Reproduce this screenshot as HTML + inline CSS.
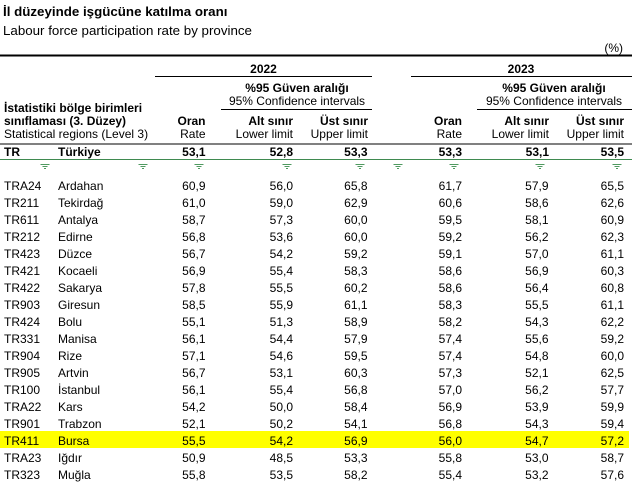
<!DOCTYPE html>
<html><head><meta charset="utf-8"><style>
html,body{margin:0;padding:0;background:#fff;}
svg{display:block;}
text{font-family:"Liberation Sans",Arial,sans-serif;font-size:12px;fill:#000;}
.b{font-weight:bold;}
.e{text-anchor:end;}
.m{text-anchor:middle;}
.t{font-size:13.33px;}
</style></head><body>
<svg width="632" height="484" viewBox="0 0 632 484" xmlns="http://www.w3.org/2000/svg">
<rect x="0" y="431" width="629" height="17" fill="#ffff00"/>
<text class="b t" x="3" y="16">İl düzeyinde işgücüne katılma oranı</text>
<text class="t" x="3" y="35">Labour force participation rate by province</text>
<text class="e" x="623" y="52">(%)</text>
<rect x="0" y="54.5" width="632" height="2" fill="#000"/>
<rect x="155" y="76" width="217" height="1" fill="#000"/>
<rect x="411" y="76" width="221" height="1" fill="#000"/>
<rect x="221" y="109" width="151" height="1" fill="#000"/>
<rect x="477" y="109" width="155" height="1" fill="#000"/>
<rect x="0" y="143.5" width="632" height="1" fill="#000"/>
<rect x="0" y="159" width="632" height="1" fill="#3f8a50"/>
<text class="b m" x="263.5" y="73">2022</text>
<text class="b m" x="521" y="73">2023</text>
<text class="b m" x="297" y="92">%95 Güven aralığı</text>
<text class="m" x="297" y="105">95% Confidence intervals</text>
<text class="b m" x="554" y="92">%95 Güven aralığı</text>
<text class="m" x="554" y="105">95% Confidence intervals</text>
<text class="b" x="4" y="112">İstatistiki bölge birimleri</text>
<text class="b" x="4" y="125">sınıflaması (3. Düzey)</text>
<text x="4" y="138">Statistical regions (Level 3)</text>
<text class="b e" x="205.5" y="125">Oran</text><text class="e" x="205.5" y="138">Rate</text>
<text class="b e" x="293" y="125">Alt sınır</text><text class="e" x="293" y="138">Lower limit</text>
<text class="b e" x="368" y="125">Üst sınır</text><text class="e" x="368" y="138">Upper limit</text>
<text class="b e" x="462" y="125">Oran</text><text class="e" x="462" y="138">Rate</text>
<text class="b e" x="549" y="125">Alt sınır</text><text class="e" x="549" y="138">Lower limit</text>
<text class="b e" x="624" y="125">Üst sınır</text><text class="e" x="624" y="138">Upper limit</text>
<text class="b" x="4" y="156">TR</text><text class="b" x="58" y="156">Türkiye</text>
<text class="b e" x="205.5" y="156">53,1</text><text class="b e" x="293" y="156">52,8</text><text class="b e" x="367.5" y="156">53,3</text>
<text class="b e" x="462" y="156">53,3</text><text class="b e" x="549" y="156">53,1</text><text class="b e" x="624" y="156">53,5</text>
<g fill="#4f9a60">
<g transform="translate(45,0)"><rect x="-4.5" y="164" width="9" height="1"/><rect x="-2.5" y="166" width="5" height="1"/><rect x="-1" y="168" width="2" height="1"/></g>
<g transform="translate(143,0)"><rect x="-4.5" y="164" width="9" height="1"/><rect x="-2.5" y="166" width="5" height="1"/><rect x="-1" y="168" width="2" height="1"/></g>
<g transform="translate(199,0)"><rect x="-4.5" y="164" width="9" height="1"/><rect x="-2.5" y="166" width="5" height="1"/><rect x="-1" y="168" width="2" height="1"/></g>
<g transform="translate(287,0)"><rect x="-4.5" y="164" width="9" height="1"/><rect x="-2.5" y="166" width="5" height="1"/><rect x="-1" y="168" width="2" height="1"/></g>
<g transform="translate(360,0)"><rect x="-4.5" y="164" width="9" height="1"/><rect x="-2.5" y="166" width="5" height="1"/><rect x="-1" y="168" width="2" height="1"/></g>
<g transform="translate(398,0)"><rect x="-4.5" y="164" width="9" height="1"/><rect x="-2.5" y="166" width="5" height="1"/><rect x="-1" y="168" width="2" height="1"/></g>
<g transform="translate(454,0)"><rect x="-4.5" y="164" width="9" height="1"/><rect x="-2.5" y="166" width="5" height="1"/><rect x="-1" y="168" width="2" height="1"/></g>
<g transform="translate(540,0)"><rect x="-4.5" y="164" width="9" height="1"/><rect x="-2.5" y="166" width="5" height="1"/><rect x="-1" y="168" width="2" height="1"/></g>
<g transform="translate(617,0)"><rect x="-4.5" y="164" width="9" height="1"/><rect x="-2.5" y="166" width="5" height="1"/><rect x="-1" y="168" width="2" height="1"/></g>
</g>
<g>
<text x="4" y="190">TRA24</text><text x="58" y="190">Ardahan</text><text class="e" x="205.5" y="190">60,9</text><text class="e" x="293" y="190">56,0</text><text class="e" x="367.5" y="190">65,8</text><text class="e" x="462" y="190">61,7</text><text class="e" x="548.5" y="190">57,9</text><text class="e" x="624" y="190">65,5</text>
<text x="4" y="207">TR211</text><text x="58" y="207">Tekirdağ</text><text class="e" x="205.5" y="207">61,0</text><text class="e" x="293" y="207">59,0</text><text class="e" x="367.5" y="207">62,9</text><text class="e" x="462" y="207">60,6</text><text class="e" x="548.5" y="207">58,6</text><text class="e" x="624" y="207">62,6</text>
<text x="4" y="224">TR611</text><text x="58" y="224">Antalya</text><text class="e" x="205.5" y="224">58,7</text><text class="e" x="293" y="224">57,3</text><text class="e" x="367.5" y="224">60,0</text><text class="e" x="462" y="224">59,5</text><text class="e" x="548.5" y="224">58,1</text><text class="e" x="624" y="224">60,9</text>
<text x="4" y="241">TR212</text><text x="58" y="241">Edirne</text><text class="e" x="205.5" y="241">56,8</text><text class="e" x="293" y="241">53,6</text><text class="e" x="367.5" y="241">60,0</text><text class="e" x="462" y="241">59,2</text><text class="e" x="548.5" y="241">56,2</text><text class="e" x="624" y="241">62,3</text>
<text x="4" y="258">TR423</text><text x="58" y="258">Düzce</text><text class="e" x="205.5" y="258">56,7</text><text class="e" x="293" y="258">54,2</text><text class="e" x="367.5" y="258">59,2</text><text class="e" x="462" y="258">59,1</text><text class="e" x="548.5" y="258">57,0</text><text class="e" x="624" y="258">61,1</text>
<text x="4" y="275">TR421</text><text x="58" y="275">Kocaeli</text><text class="e" x="205.5" y="275">56,9</text><text class="e" x="293" y="275">55,4</text><text class="e" x="367.5" y="275">58,3</text><text class="e" x="462" y="275">58,6</text><text class="e" x="548.5" y="275">56,9</text><text class="e" x="624" y="275">60,3</text>
<text x="4" y="292">TR422</text><text x="58" y="292">Sakarya</text><text class="e" x="205.5" y="292">57,8</text><text class="e" x="293" y="292">55,5</text><text class="e" x="367.5" y="292">60,2</text><text class="e" x="462" y="292">58,6</text><text class="e" x="548.5" y="292">56,4</text><text class="e" x="624" y="292">60,8</text>
<text x="4" y="309">TR903</text><text x="58" y="309">Giresun</text><text class="e" x="205.5" y="309">58,5</text><text class="e" x="293" y="309">55,9</text><text class="e" x="367.5" y="309">61,1</text><text class="e" x="462" y="309">58,3</text><text class="e" x="548.5" y="309">55,5</text><text class="e" x="624" y="309">61,1</text>
<text x="4" y="326">TR424</text><text x="58" y="326">Bolu</text><text class="e" x="205.5" y="326">55,1</text><text class="e" x="293" y="326">51,3</text><text class="e" x="367.5" y="326">58,9</text><text class="e" x="462" y="326">58,2</text><text class="e" x="548.5" y="326">54,3</text><text class="e" x="624" y="326">62,2</text>
<text x="4" y="343">TR331</text><text x="58" y="343">Manisa</text><text class="e" x="205.5" y="343">56,1</text><text class="e" x="293" y="343">54,4</text><text class="e" x="367.5" y="343">57,9</text><text class="e" x="462" y="343">57,4</text><text class="e" x="548.5" y="343">55,6</text><text class="e" x="624" y="343">59,2</text>
<text x="4" y="360">TR904</text><text x="58" y="360">Rize</text><text class="e" x="205.5" y="360">57,1</text><text class="e" x="293" y="360">54,6</text><text class="e" x="367.5" y="360">59,5</text><text class="e" x="462" y="360">57,4</text><text class="e" x="548.5" y="360">54,8</text><text class="e" x="624" y="360">60,0</text>
<text x="4" y="377">TR905</text><text x="58" y="377">Artvin</text><text class="e" x="205.5" y="377">56,7</text><text class="e" x="293" y="377">53,1</text><text class="e" x="367.5" y="377">60,3</text><text class="e" x="462" y="377">57,3</text><text class="e" x="548.5" y="377">52,1</text><text class="e" x="624" y="377">62,5</text>
<text x="4" y="394">TR100</text><text x="58" y="394">İstanbul</text><text class="e" x="205.5" y="394">56,1</text><text class="e" x="293" y="394">55,4</text><text class="e" x="367.5" y="394">56,8</text><text class="e" x="462" y="394">57,0</text><text class="e" x="548.5" y="394">56,2</text><text class="e" x="624" y="394">57,7</text>
<text x="4" y="411">TRA22</text><text x="58" y="411">Kars</text><text class="e" x="205.5" y="411">54,2</text><text class="e" x="293" y="411">50,0</text><text class="e" x="367.5" y="411">58,4</text><text class="e" x="462" y="411">56,9</text><text class="e" x="548.5" y="411">53,9</text><text class="e" x="624" y="411">59,9</text>
<text x="4" y="428">TR901</text><text x="58" y="428">Trabzon</text><text class="e" x="205.5" y="428">52,1</text><text class="e" x="293" y="428">50,2</text><text class="e" x="367.5" y="428">54,1</text><text class="e" x="462" y="428">56,8</text><text class="e" x="548.5" y="428">54,3</text><text class="e" x="624" y="428">59,4</text>
<text x="4" y="445">TR411</text><text x="58" y="445">Bursa</text><text class="e" x="205.5" y="445">55,5</text><text class="e" x="293" y="445">54,2</text><text class="e" x="367.5" y="445">56,9</text><text class="e" x="462" y="445">56,0</text><text class="e" x="548.5" y="445">54,7</text><text class="e" x="624" y="445">57,2</text>
<text x="4" y="462">TRA23</text><text x="58" y="462">Iğdır</text><text class="e" x="205.5" y="462">50,9</text><text class="e" x="293" y="462">48,5</text><text class="e" x="367.5" y="462">53,3</text><text class="e" x="462" y="462">55,8</text><text class="e" x="548.5" y="462">53,0</text><text class="e" x="624" y="462">58,7</text>
<text x="4" y="479">TR323</text><text x="58" y="479">Muğla</text><text class="e" x="205.5" y="479">55,8</text><text class="e" x="293" y="479">53,5</text><text class="e" x="367.5" y="479">58,2</text><text class="e" x="462" y="479">55,4</text><text class="e" x="548.5" y="479">53,2</text><text class="e" x="624" y="479">57,6</text>
</g>
</svg>
</body></html>
